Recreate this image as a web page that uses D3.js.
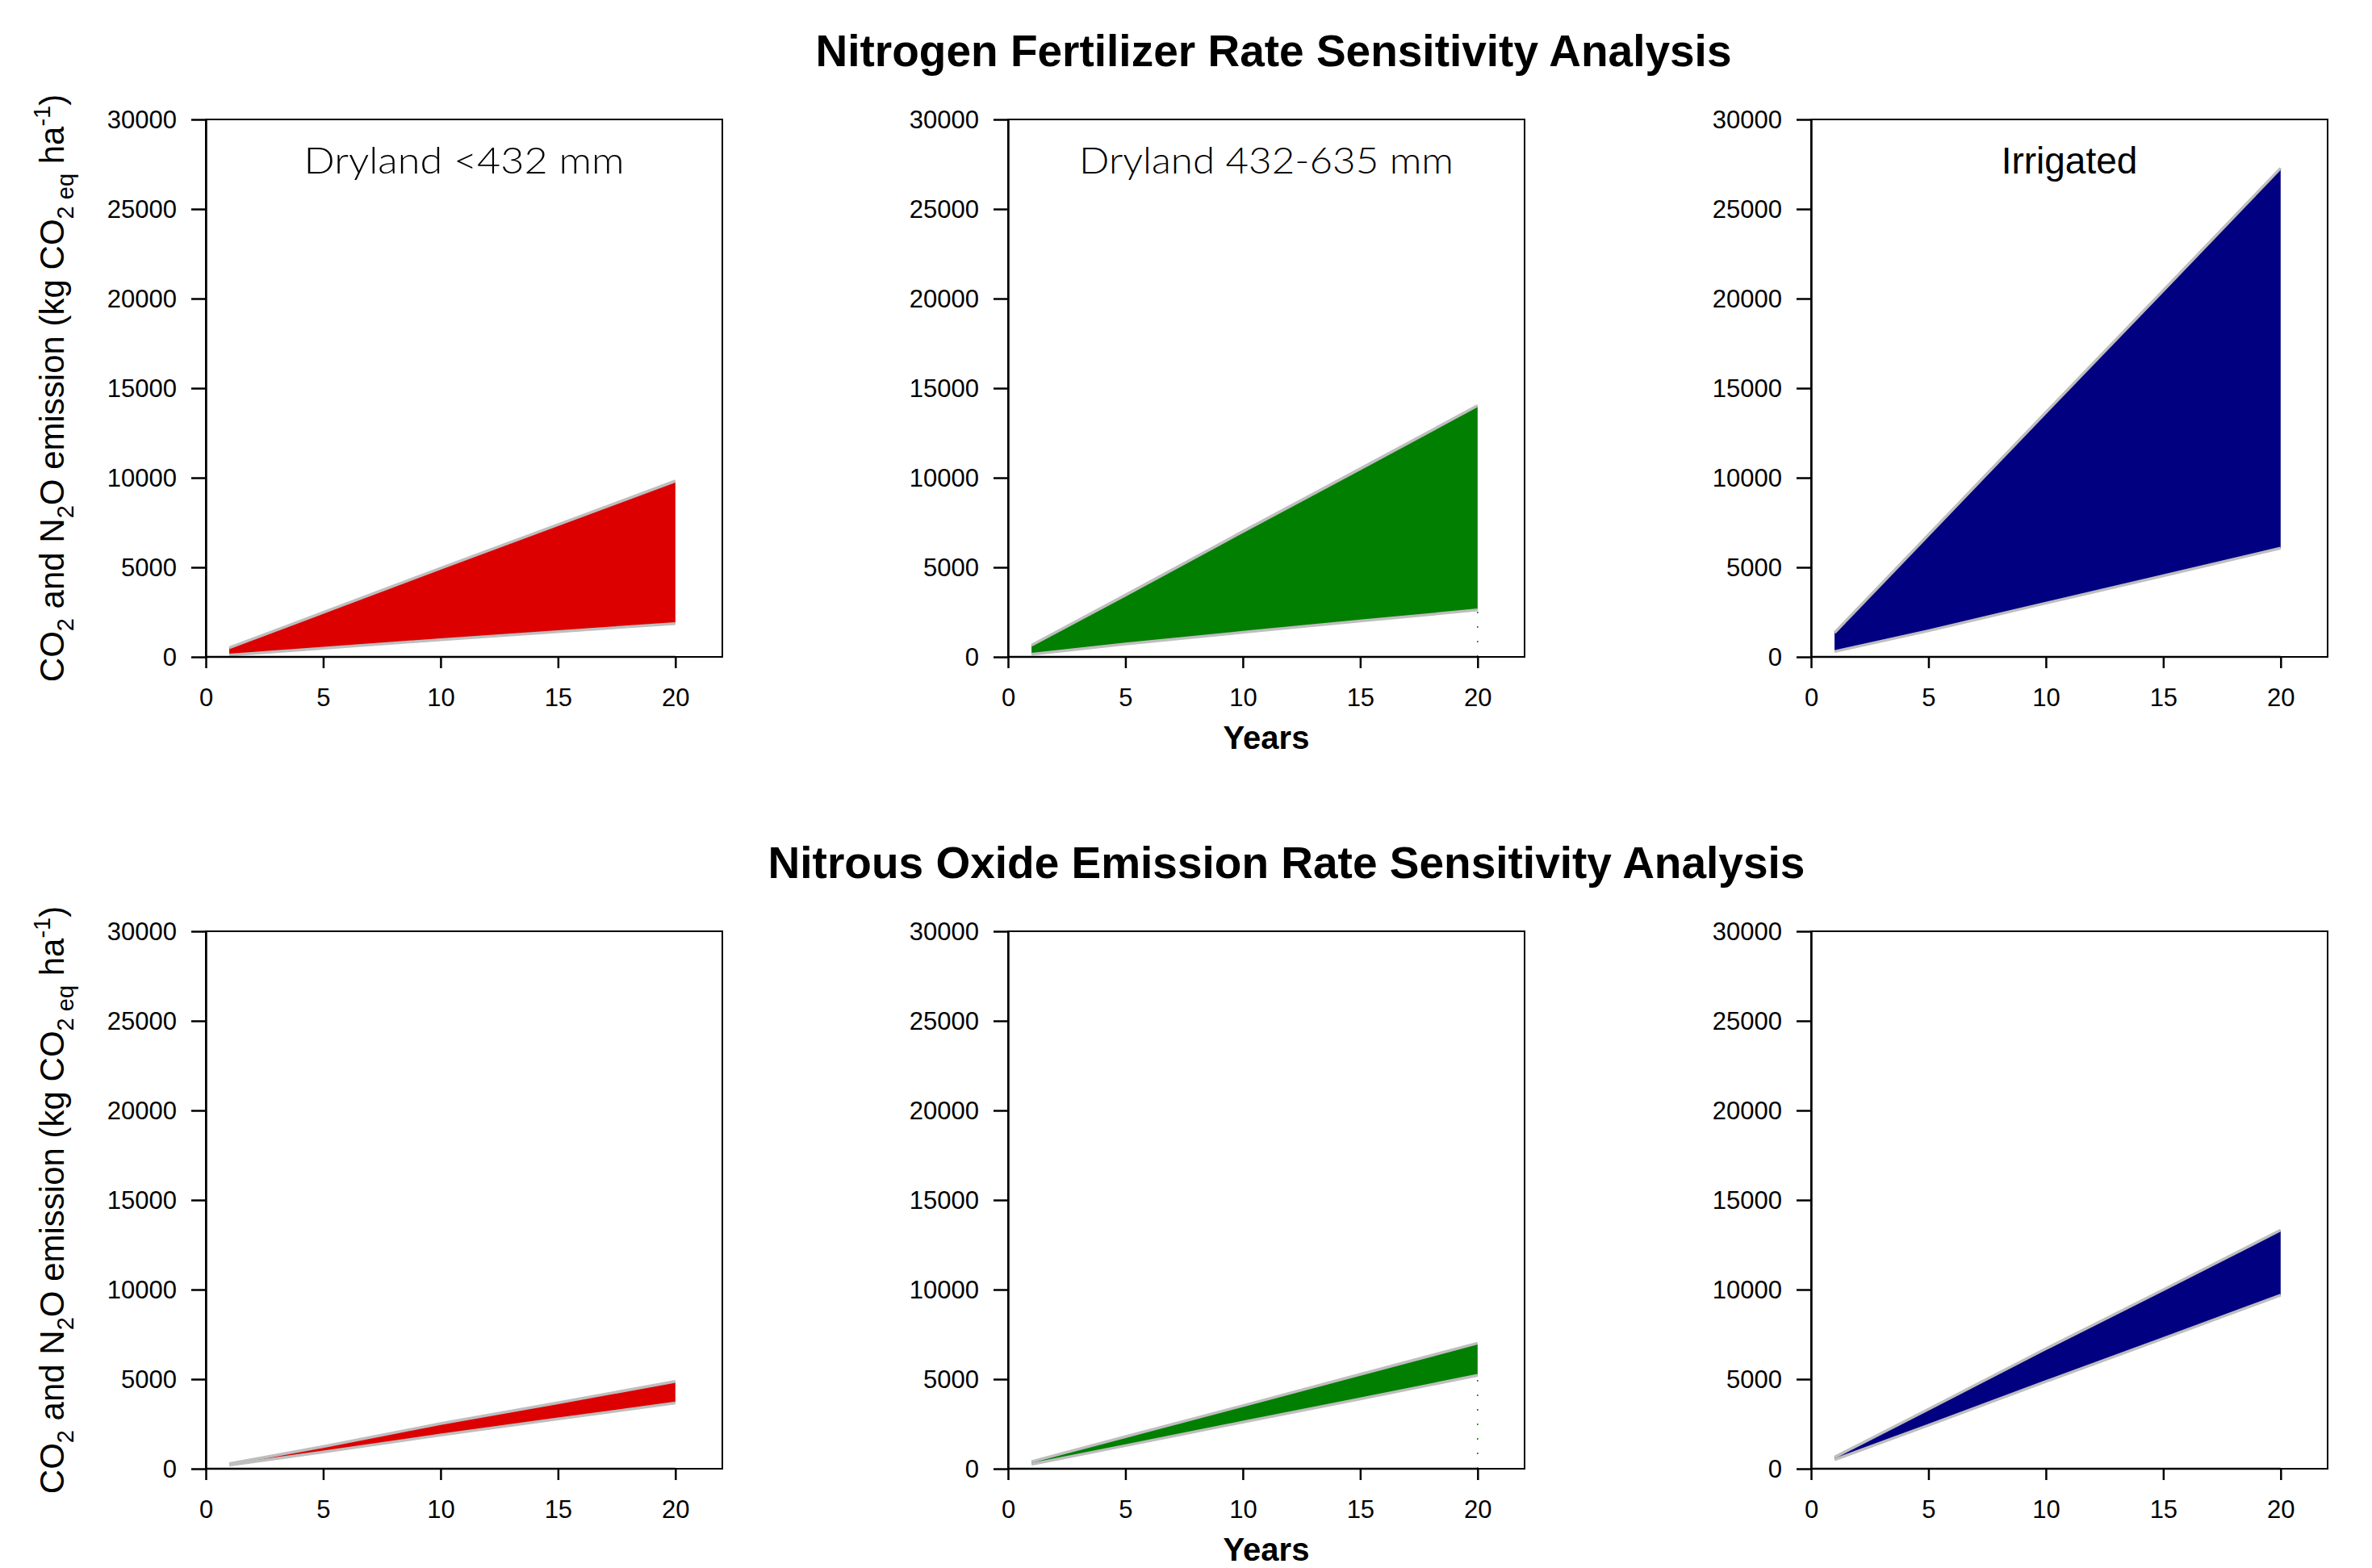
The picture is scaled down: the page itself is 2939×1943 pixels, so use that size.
<!DOCTYPE html>
<html>
<head>
<meta charset="utf-8">
<script src="https://cdn.jsdelivr.net/npm/d3@7"></script>
<style>
  body { margin: 0; background: #fff; }
  svg text { font-family: "Liberation Sans", Arial, sans-serif; fill: #000; }
  .tick text { font-size: 31px; }
  .tick line { stroke: #000; stroke-width: 2.5; }
</style>
</head>
<body>
<div id="chart"></div>
<script>
const W = 2939;
const H = 1943;

// years, band edges
const years = [1, 5, 10, 15, 20];

const fertDryLowLower = [100, 480, 960, 1410, 1860];
const fertDryLowUpper = [510, 2480, 4950, 7380, 9820];
const fertDryMidLower = [150, 720, 1370, 2000, 2620];
const fertDryMidUpper = [650, 3450, 7000, 10500, 14030];
const fertIrrLower = [300, 1460, 3000, 4530, 6070];
const fertIrrUpper = [1350, 6810, 13650, 20450, 27280];

const n2oDryLowLower = [200, 930, 1880, 2780, 3670];
const n2oDryLowUpper = [280, 1240, 2520, 3680, 4880];
const n2oDryMidLower = [250, 1290, 2600, 3900, 5210];
const n2oDryMidUpper = [400, 1790, 3520, 5270, 7010];
const n2oIrrLower = [500, 2430, 4870, 7270, 9690];
const n2oIrrUpper = [650, 3320, 6700, 9990, 13320];

const xTicks = [0, 5, 10, 15, 20];
const yTicks = [0, 5000, 10000, 15000, 20000, 25000, 30000];
const xDomain = [0, 22];
const yDomain = [0, 30000];

const rowTitles = [
  "Nitrogen Fertilizer Rate Sensitivity Analysis",
  "Nitrous Oxide Emission Rate Sensitivity Analysis",
];
const panelLabels = ["Dryland <432 mm", "Dryland 432-635 mm", "Irrigated"];
const xTitle = "Years";

const fills = ["#dd0000", "#007f00", "#000080"];

const rows = [
  [
    [fertDryLowLower, fertDryLowUpper],
    [fertDryMidLower, fertDryMidUpper],
    [fertIrrLower, fertIrrUpper],
  ],
  [
    [n2oDryLowLower, n2oDryLowUpper],
    [n2oDryMidLower, n2oDryMidUpper],
    [n2oIrrLower, n2oIrrUpper],
  ],
];

const colLeft = [255, 1249, 2244];
const plotW = 640;
const rowTop = [148, 1154];
const plotH = 666;
const titleX = [1578, 1594];

const svg = d3
  .select("#chart")
  .append("svg")
  .attr("width", W)
  .attr("height", H)
  .attr("viewBox", [0, 0, W, H]);

svg.append("rect").attr("width", W).attr("height", H).attr("fill", "#fff");

const x = d3.scaleLinear().domain(xDomain).range([0, plotW]);
const y = d3.scaleLinear().domain(yDomain).range([plotH, 0]);

rows.forEach(function (row, r) {
  svg
    .append("text")
    .attr("x", titleX[r])
    .attr("y", rowTop[r] - 66)
    .attr("text-anchor", "middle")
    .style("font-size", "55px")
    .style("font-weight", "bold")
    .text(rowTitles[r]);

  // y axis title with sub/superscripts
  const yl = svg
    .append("text")
    .attr(
      "transform",
      "translate(79," + (rowTop[r] + plotH / 2) + ") rotate(-90)"
    )
    .attr("text-anchor", "middle")
    .style("font-size", "42px");
  yl.append("tspan").text("CO");
  yl.append("tspan").attr("dy", 12).style("font-size", "29px").text("2");
  yl.append("tspan").attr("dy", -12).text(" and N");
  yl.append("tspan").attr("dy", 12).style("font-size", "29px").text("2");
  yl.append("tspan").attr("dy", -12).text("O emission (kg CO");
  yl.append("tspan").attr("dy", 12).style("font-size", "29px").text("2 eq");
  yl.append("tspan").attr("dy", -12).text(" ha");
  yl.append("tspan").attr("dy", -17).style("font-size", "29px").text("-1");
  yl.append("tspan").attr("dy", 17).text(")");

  row.forEach(function (band, c) {
    const lower = band[0];
    const upper = band[1];
    const pts = years.map(function (yr, i) {
      return { year: yr, lo: lower[i], hi: upper[i] };
    });

    const g = svg
      .append("g")
      .attr("transform", "translate(" + colLeft[c] + "," + rowTop[r] + ")");

    const area = d3
      .area()
      .x(function (d) { return x(d.year); })
      .y0(function (d) { return y(d.lo); })
      .y1(function (d) { return y(d.hi); });

    g.append("path").datum(pts).attr("d", area).attr("fill", fills[c]);

    ["lo", "hi"].forEach(function (k) {
      g.append("path")
        .datum(pts)
        .attr(
          "d",
          d3
            .line()
            .x(function (d) { return x(d.year); })
            .y(function (d) { return y(d[k]); })
        )
        .attr("fill", "none")
        .attr("stroke", "#bebebe")
        .attr("stroke-width", 3.5);
    });

    // faint dotted trace under the green bands
    if (c === 1) {
      const last = pts[pts.length - 1];
      g.append("line")
        .attr("x1", x(last.year))
        .attr("x2", x(last.year))
        .attr("y1", y(0))
        .attr("y2", y(last.lo))
        .attr("stroke", fills[c])
        .attr("stroke-width", 1.5)
        .attr("stroke-dasharray", "2,16");
    }

    g.append("rect")
      .attr("width", plotW)
      .attr("height", plotH)
      .attr("fill", "none")
      .attr("stroke", "#000")
      .attr("stroke-width", 2);

    const yAxis = d3
      .axisLeft(y)
      .tickValues(yTicks)
      .tickFormat(d3.format("d"))
      .tickSize(18)
      .tickSizeOuter(0)
      .tickPadding(18);
    const ya = g.append("g").call(yAxis);
    ya.select(".domain").attr("stroke", "#000").attr("stroke-width", 2.5);
    ya.selectAll("text").attr("dy", "0.34em");

    const xAxis = d3
      .axisBottom(x)
      .tickValues(xTicks)
      .tickFormat(d3.format("d"))
      .tickSize(14)
      .tickPadding(25);
    const xa = g
      .append("g")
      .attr("transform", "translate(0," + plotH + ")")
      .call(xAxis);
    xa.select(".domain").remove();
    xa.append("line")
      .attr("x1", x(xTicks[0]))
      .attr("x2", x(xTicks[xTicks.length - 1]))
      .attr("stroke", "#000")
      .attr("stroke-width", 2.5);

    if (r === 0) {
      const lab = g
        .append("text")
        .attr("x", plotW / 2)
        .attr("y", 67)
        .attr("text-anchor", "middle")
        .text(panelLabels[c]);
      if (c === 2) {
        lab.style("font-size", "46px");
      } else {
        lab
          .style("font-family", "Lato, 'Open Sans', sans-serif")
          .style("font-weight", "300")
          .style("font-size", "46px")
          .attr("textLength", c === 0 ? 397 : 464)
          .attr("lengthAdjust", "spacingAndGlyphs");
      }
    }

    if (c === 1) {
      g.append("text")
        .attr("x", plotW / 2)
        .attr("y", plotH + 114)
        .attr("text-anchor", "middle")
        .style("font-size", "40px")
        .style("font-weight", "bold")
        .text(xTitle);
    }
  });
});
</script>
</body>
</html>
